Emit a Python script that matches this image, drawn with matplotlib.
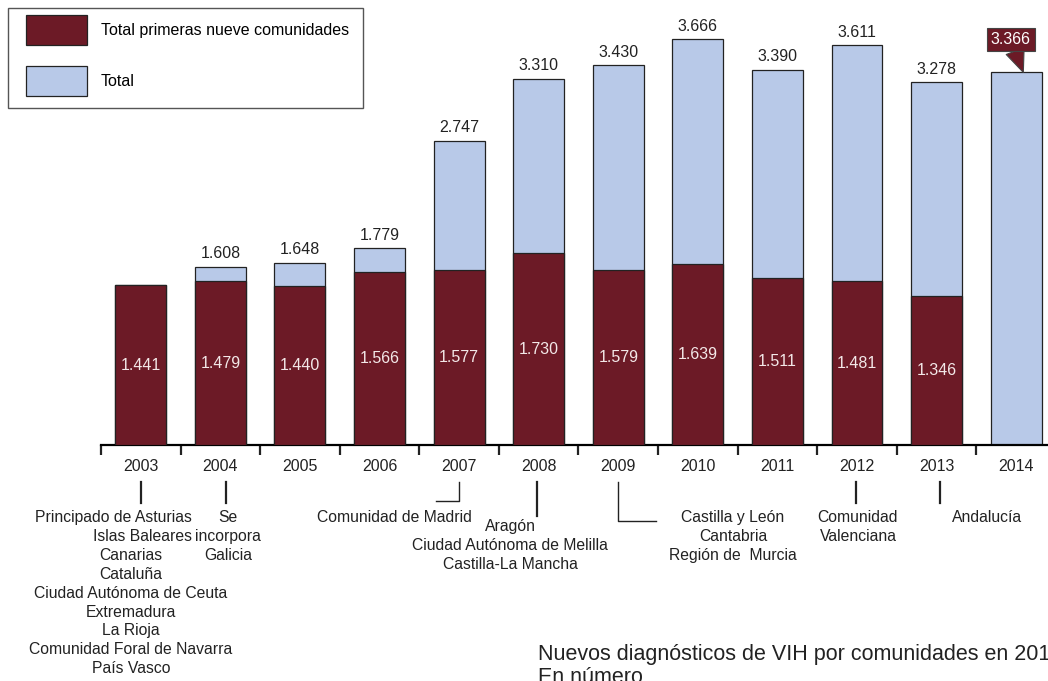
import numpy as np
import matplotlib
matplotlib.use("Agg")
import matplotlib.pyplot as plt
from matplotlib.lines import Line2D
from matplotlib.patches import Patch, Rectangle

plt.rcParams['font.family'] = ['Liberation Sans', 'DejaVu Sans']

# Data
years = ['2003', '2004', '2005', '2006', '2007', '2008',
         '2009', '2010', '2011', '2012', '2013', '2014']
primeras_nueve = [1441, 1479, 1440, 1566, 1577, 1730,
                  1579, 1639, 1511, 1481, 1346, 0]
total = [1441, 1608, 1648, 1779, 2747, 3310,
         3430, 3666, 3390, 3611, 3278, 3366]
incorporaciones = [
    "Principado de Asturias\nIslas Baleares\nCanarias\nCataluña\n"
    "Ciudad Autónoma de Ceuta\nExtremadura\nLa Rioja\n"
    "Comunidad Foral de Navarra\nPaís Vasco",
    "Se\nincorpora\nGalicia",
    None, None,
    "Comunidad de Madrid",
    "Aragón\nCiudad Autónoma de Melilla\nCastilla-La Mancha",
    "Castilla y León\nCantabria\nRegión de  Murcia",
    None, None,
    "Comunidad\nValenciana",
    "Andalucía",
    None,
]

RED = '#6c1a26'
BLUE = '#b8c9e8'
INK = '#222222'
W, H = 1048, 681
FS = 11.5


def fmt(v):
    return f"{v:,}".replace(',', '.')


fig = plt.figure(figsize=(W / 100, H / 100), dpi=100)
ax = fig.add_axes([101 / W, (H - 445) / H, 947 / W, 445 / H])
x = np.arange(len(years))

ax.bar(x, total, width=0.64, color=BLUE, edgecolor=INK, linewidth=0.9, zorder=2)
ax.bar(x, primeras_nueve, width=0.64, color=RED, edgecolor=INK, linewidth=0.9, zorder=3)

# labels on bars
for i, (r, t) in enumerate(zip(primeras_nueve, total)):
    if r > 0:
        ax.text(i, r / 2, fmt(r), ha='center', va='center', color='#f3e8e8',
                fontsize=FS, zorder=4)
    if i == len(years) - 1:
        ax.annotate(fmt(t), xy=(i + 0.09, t), xytext=(i - 0.07, t + 300),
                    textcoords='data', ha='center', va='center', color='white',
                    fontsize=FS, zorder=5,
                    bbox=dict(boxstyle='square,pad=0.25', fc=RED, ec='#444444', lw=0.8),
                    arrowprops=dict(arrowstyle='wedge,tail_width=1.2,shrink_factor=0.5',
                                    fc=RED, ec='#444444', lw=0.8, shrinkA=0, shrinkB=0))
    elif t > r:
        ax.annotate(fmt(t), xy=(i, t), xytext=(0, 4), textcoords='offset points',
                    ha='center', va='bottom', fontsize=FS, color=INK)

ax.set_xlim(-0.5, 11.4)
ax.set_ylim(0, 4020)
for s in ['top', 'right', 'left']:
    ax.spines[s].set_visible(False)
ax.spines['bottom'].set_linewidth(1.6)
ax.set_yticks([])
ax.set_xticks(x)
ax.set_xticklabels(years, fontsize=FS, color=INK)
ax.tick_params(axis='x', which='major', length=0, pad=10)
ax.set_xticks(np.arange(-0.5, 11, 1), minor=True)
ax.tick_params(axis='x', which='minor', length=7, width=1.6, color=INK)

# legend (frame drawn separately so the padding matches the original)
handles = [Patch(fc=RED, ec=INK, lw=0.9, label='Total primeras nueve comunidades'),
           Patch(fc=BLUE, ec=INK, lw=0.9, label='Total')]
fig.legend(handles=handles, loc='upper left',
           bbox_to_anchor=(26 / W, 1 - 15 / H), fontsize=FS, frameon=False,
           handlelength=3.8, handleheight=2.5, labelspacing=1.35, borderpad=0,
           handletextpad=0.875, borderaxespad=0)
fig.add_artist(Rectangle((8 / W, 1 - 108 / H), 355 / W, 100 / H, transform=fig.transFigure,
                         fill=False, ec='#555555', lw=1.0))

# incorporation notes below the axis (pixel positions)
tr = fig.transFigure
NOTE_FS = 11.3
LS = 1.32

note_pos = {1: (228, 510), 4: (394, 510), 5: (510, 519),
            6: (733, 510), 9: (858, 510), 10: (987, 510)}
for i, txt in enumerate(incorporaciones):
    if txt is None:
        continue
    if i == 0:
        # first two lines sit to the left to leave room for the 2004 note
        lines = txt.split('\n')
        fig.text(192 / W, 1 - 510 / H, '\n'.join(lines[:2]), ha='right', va='top',
                 multialignment='right', fontsize=NOTE_FS, linespacing=LS,
                 color=INK, transform=tr)
        fig.text(131 / W, 1 - 548 / H, '\n'.join(lines[2:]), ha='center', va='top',
                 fontsize=NOTE_FS, linespacing=LS, color=INK, transform=tr)
        continue
    xp, yp = note_pos[i]
    fig.text(xp / W, 1 - yp / H, txt, ha='center', va='top', fontsize=NOTE_FS,
             linespacing=LS, color=INK, transform=tr)

connectors = [
    [(141, 482), (141, 503)],
    [(226, 482), (226, 503)],
    [(459, 482), (459, 501), (436, 501)],
    [(537, 482), (537, 516)],
    [(618, 482), (618, 521), (656, 521)],
    [(856, 482), (856, 503)],
    [(940, 482), (940, 503)],
]
for pts in connectors:
    xs = [p[0] / W for p in pts]
    ys = [1 - p[1] / H for p in pts]
    fig.add_artist(Line2D(xs, ys, color=INK, lw=1.6 if len(pts) == 2 else 1.0,
                          transform=tr))

fig.text(538 / W, 1 - 666 / H, 'Nuevos diagnósticos de VIH por comunidades en 2014\nEn número',
         ha='left', va='center', fontsize=15.5, linespacing=1.1, color=INK,
         transform=tr)

fig.savefig('out.png', dpi=100)
